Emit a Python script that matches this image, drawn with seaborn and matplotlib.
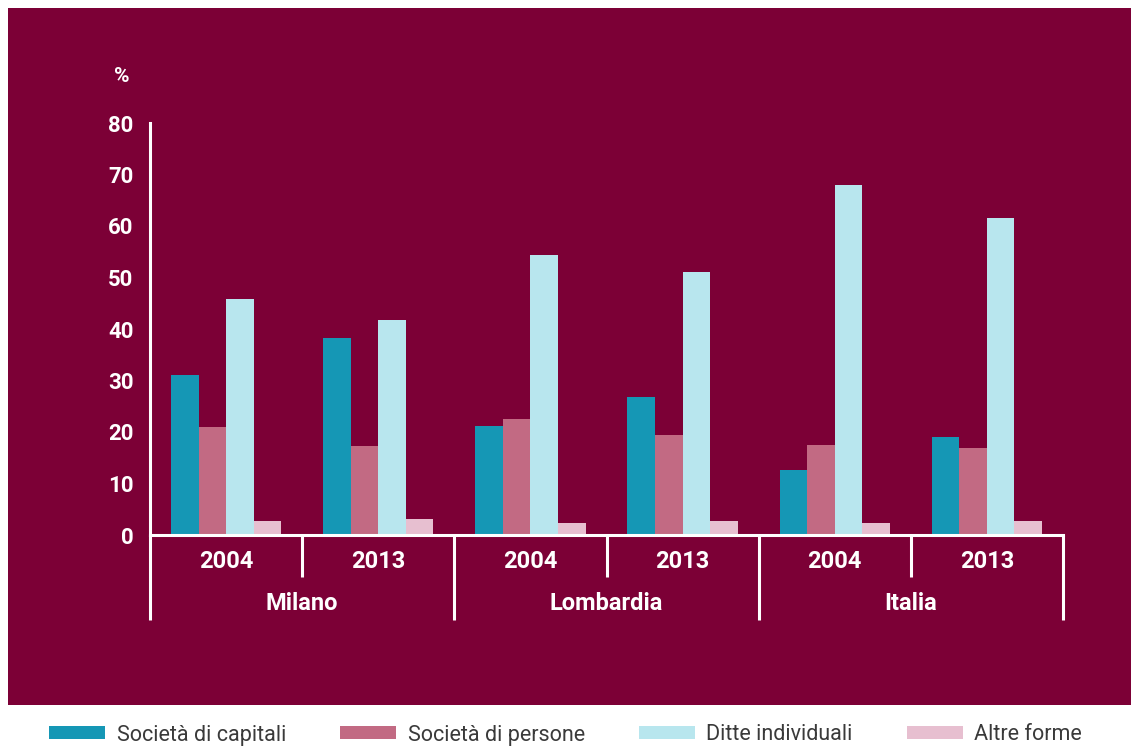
import matplotlib
matplotlib.use("Agg")
import matplotlib.pyplot as plt
import matplotlib.patches as mpatches
import matplotlib.transforms as mtransforms
import seaborn as sns
import pandas as pd
import numpy as np

# ---- data ----
areas = ["Milano", "Lombardia", "Italia"]
years = ["2004", "2013"]
forme = ["Società di capitali", "Società di persone", "Ditte individuali", "Altre forme"]
capitali = [31.0, 38.3, 21.2, 26.8, 12.6, 19.1]
persone = [21.0, 17.3, 22.5, 19.4, 17.5, 16.9]
ditte = [45.8, 41.7, 54.4, 51.1, 68.0, 61.5]
altre = [2.7, 3.2, 2.3, 2.8, 2.4, 2.8]
yticks = [0, 10, 20, 30, 40, 50, 60, 70, 80]

slots = [f"{a} {y}" for a in areas for y in years]
rows = []
for name, vals in zip(forme, [capitali, persone, ditte, altre]):
    for s, v in zip(slots, vals):
        rows.append({"slot": s, "forma": name, "value": v})
df = pd.DataFrame(rows)

BG = "#7c0036"
colors = ["#1597b5", "#c26a83", "#b8e6ee", "#e7bfd0"]
WHITE = "#ffffff"

sns.set_theme(style="white")
plt.rcParams["font.family"] = ["Roboto", "DejaVu Sans"]

W, H = 1131, 755
fig = plt.figure(figsize=(W / 100, H / 100), dpi=100, facecolor="white")
bgrect = mpatches.Rectangle((8 / W, 1 - 705 / H), 1 - 8 / W, (705 - 8) / H,
                            transform=fig.transFigure, facecolor=BG,
                            edgecolor="none", zorder=-10)
fig.patches.append(bgrect)

ax = fig.add_axes([150 / W, 1 - 535 / H, (1063 - 150) / W, (535 - 123) / H])
ax.set_facecolor("none")
ax.set_zorder(5)

sns.barplot(data=df, x="slot", y="value", hue="forma", order=slots, hue_order=forme,
            palette=colors, width=0.725, saturation=1, ax=ax, legend=False,
            edgecolor="none", linewidth=0)

ax.set_xlim(-0.5, len(slots) - 0.5)
ax.set_ylim(0, 80)
ax.set_yticks(yticks)
ax.set_yticklabels([str(t) for t in yticks], color=WHITE, fontsize=16, fontweight="bold")
ax.tick_params(axis="y", colors=WHITE, direction="out", length=5, width=2, pad=7,
               labelcolor=WHITE)
ax.set_xticks([])
ax.set_xlabel("")
ax.set_ylabel("")
for side in ["top", "right"]:
    ax.spines[side].set_visible(False)
for side in ["left", "bottom"]:
    ax.spines[side].set_color(WHITE)
    ax.spines[side].set_linewidth(2.2)

trans = mtransforms.blended_transform_factory(ax.transData, ax.transAxes)
axh = 535 - 123
# separators
for i in range(len(slots) + 1):
    xb = i - 0.5
    long_line = (i % 2 == 0)
    y_end = -(620 - 535) / axh if long_line else -(577 - 535) / axh
    ax.plot([xb, xb], [0, y_end], color=WHITE, lw=2.2, transform=trans, clip_on=False,
            solid_capstyle="butt")
# year labels
for i, s in enumerate(slots):
    ax.text(i, -(561 - 535) / axh, s.split()[-1], transform=trans, ha="center", va="center",
            color=WHITE, fontsize=17, fontweight="bold")
# area labels
for j, a in enumerate(areas):
    ax.text(2 * j + 0.5, -(604 - 535) / axh, a, transform=trans, ha="center", va="center",
            color=WHITE, fontsize=17, fontweight="bold")
# percent label
ax.text(-0.5 - 20 / 152, (535 - 77) / axh, "%", transform=trans, ha="right", va="center",
        color=WHITE, fontsize=15, fontweight="bold")

# legend
handles = [mpatches.Patch(facecolor=c, edgecolor="none", label=f) for c, f in zip(colors, forme)]
leg = fig.legend(handles=handles, loc="center", bbox_to_anchor=(0.5, 1 - 735 / H), ncol=4,
                 frameon=False, fontsize=15.5, handlelength=2.6, handleheight=0.55,
                 handletextpad=0.55, columnspacing=2.5)
for t in leg.get_texts():
    t.set_color("#3a3a3a")

fig.savefig("out.png", dpi=100, facecolor="white")
